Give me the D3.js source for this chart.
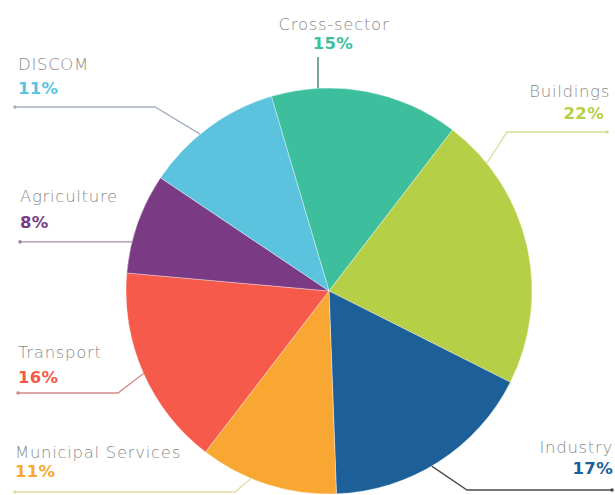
<!DOCTYPE html>
<html><head><meta charset="utf-8">
<script src="https://cdn.jsdelivr.net/npm/d3@7"></script>
<style>html,body{margin:0;padding:0;background:#fff;}svg{display:block;}</style>
</head><body>
<svg id="chart" width="615" height="495"></svg>
<script>
// ---- data ----
const categories = ["Cross-sector","Buildings","Industry","Municipal Services","Transport","Agriculture","DISCOM"];
const shares = [15,22,17,11,16,8,11];
const colors = ["#3dbf9e","#b5d046","#1c5f99","#f8a832","#f65a4b","#7a3a84","#5cc3df"];
const lineColors = ["#2f7565","#d9dc9c","#4a4a4a","#e3dba4","#d38a8a","#9c8ca3","#a6b0bd"];

// label layout (styles/positions, not data)
const layout = {
  "Cross-sector":      {anchor:"middle", tx:334, ty:30,  px:333, py:49,  angle:-3.1,  elbow:null,      endx:318, ly:57},
  "Buildings":         {anchor:"end",    tx:610, ty:97,  px:604, py:119, angle:51,    elbow:[507,132], endx:607},
  "Industry":          {anchor:"end",    tx:613, ty:453, px:613, py:474, angle:149.6, elbow:[467,490], endx:612},
  "Municipal Services":{anchor:"start",  tx:15,  ty:458, px:15,  py:477, angle:-157.4,elbow:[235,492], endx:15},
  "Transport":         {anchor:"start",  tx:18,  ty:358, px:18,  py:383, angle:-114,  elbow:[118,393], endx:18},
  "Agriculture":       {anchor:"start",  tx:20,  ty:202, px:20,  py:228, angle:-76,   elbow:null,      endx:20},
  "DISCOM":            {anchor:"start",  tx:18,  ty:70,  px:18,  py:94,  angle:-39.4, elbow:[155,107], endx:15}
};

const svg = d3.select("#chart");
const cx = 329, cy = 291, R = 203;
const startDeg = -16.5;

const data = categories.map((c,i)=>({name:c, value:shares[i], color:colors[i], lc:lineColors[i]}));
const pie = d3.pie().sort(null).value(d=>d.value)
  .startAngle(startDeg*Math.PI/180).endAngle(startDeg*Math.PI/180 + 2*Math.PI);
const arc = d3.arc().innerRadius(0).outerRadius(R);

const g = svg.append("g").attr("transform",`translate(${cx},${cy})`);
g.selectAll("path").data(pie(data)).join("path")
  .attr("d", arc).attr("fill", d=>d.data.color)
  .attr("stroke","#ffffff").attr("stroke-opacity",0.35).attr("stroke-width",1);

// leader lines + labels
const pt = a => [cx + R*Math.sin(a*Math.PI/180), cy - R*Math.cos(a*Math.PI/180)];
data.forEach(d=>{
  const L = layout[d.name];
  const a = pt(L.angle);
  let pts;
  if (d.name === "Cross-sector") pts = [[L.endx, L.ly],[L.endx, a[1]]];
  else if (L.elbow) pts = [a, L.elbow, [L.endx, L.elbow[1]]];
  else pts = [a, [L.endx, a[1]]];
  svg.append("path").attr("d", d3.line()(pts)).attr("fill","none")
    .attr("stroke", d.lc).attr("stroke-width",1.3);
  if (d.name !== "Cross-sector") {
    const e = pts[pts.length-1];
    svg.append("circle").attr("cx",e[0]).attr("cy",e[1]).attr("r",1.8).attr("fill",d.lc);
  }
  svg.append("text").attr("x",L.tx).attr("y",L.ty).attr("text-anchor",L.anchor)
    .attr("font-family","'DejaVu Sans', sans-serif").attr("font-weight",300)
    .attr("font-size",16.5).attr("letter-spacing",0.7).attr("fill","#8a8a8a").text(d.name);
  svg.append("text").attr("x",L.px).attr("y",L.py).attr("text-anchor",L.anchor)
    .attr("font-family","'DejaVu Sans', sans-serif").attr("font-weight",700)
    .attr("font-size",16.5).attr("letter-spacing",0.3).attr("fill",d.color).text(d.value+"%");
});
</script>
</body></html>
